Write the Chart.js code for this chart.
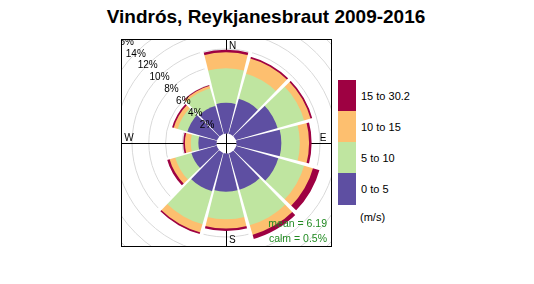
<!DOCTYPE html>
<html><head><meta charset="utf-8">
<script src="https://cdn.jsdelivr.net/npm/chart.js@4.4.1/dist/chart.umd.min.js"></script>
<style>
body{margin:0;width:534px;height:284px;background:#fff;position:relative;overflow:hidden;font-family:"Liberation Sans",Arial,sans-serif;color:#000}
#title{position:absolute;left:0;width:532px;top:6px;text-align:center;font-weight:bold;font-size:19px;line-height:22px;white-space:nowrap}
#wrap{position:absolute;left:121px;top:39px;width:211px;height:208px}
.box{position:absolute;left:338px;width:18px;height:31px}
.lab{position:absolute;left:361px;font-size:11px;line-height:14px;white-space:nowrap}
</style></head>
<body>
<div id="title">Vindrós, Reykjanesbraut 2009-2016</div>
<div id="wrap"><canvas id="c" width="211" height="208"></canvas></div>
<div id="legend"></div>
<script>
// ---- data (percent of time) ----
const directions = [0, 30, 60, 90, 120, 150, 180, 210, 240, 270, 300, 330];
const speedBins = ['0 to 5', '5 to 10', '10 to 15', '15 to 30.2'];
const freq0to5   = [3.6, 4.3, 5.2, 5.4, 5.3, 4.6, 4.6, 4.8, 3.1, 2.1, 3.6, 3.4];
const freq5to10  = [4.1, 3.1, 3.3, 2.2, 3.2, 4.4, 3.3, 4.1, 2.0, 0.9, 1.2, 2.2];
const freq10to15 = [1.9, 1.9, 0.8, 1.1, 1.1, 1.2, 1.1, 1.0, 0.7, 0.7, 0.5, 0.3];
const freq15to30 = [0.3, 0.2, 0.2, 0.3, 0.8, 0.5, 0.3, 0.2, 0.3, 0.2, 0.2, 0.1];
const pctTicks = [2, 4, 6, 8, 10, 12, 14, 16];
const compassLabels = ['N', 'E', 'S', 'W'];
const unitLabel = '(m/s)';
const meanSpeed = 6.19;
const calmPct = 0.5;

// ---- styles ----
const colors = ['#5E4FA2', '#BFE5A0', '#FDBF6F', '#9E0142'];
const scaleMin = -1.19, scaleMax = 11.19;

// cumulative stacks
const bins = [freq0to5, freq5to10, freq10to15, freq15to30];
const cum = [];
bins.forEach((b, k) => cum.push(b.map((v, i) => v + (k ? cum[k - 1][i] : 0))));

// legend (top = highest bin)
const leg = document.getElementById('legend');
const tops = [173, 142, 111, 80];
speedBins.forEach((s, k) => {
  const b = document.createElement('div'); b.className = 'box';
  b.style.top = tops[k] + 'px'; b.style.height = (k === 0 ? 32 : 31) + 'px'; b.style.background = colors[k];
  leg.appendChild(b);
  const t = document.createElement('div'); t.className = 'lab';
  t.style.top = (tops[k] + 9) + 'px'; t.textContent = s; leg.appendChild(t);
});
const u = document.createElement('div'); u.className = 'lab'; u.style.left = '360px';
u.style.top = '210px'; u.textContent = unitLabel; leg.appendChild(u);

const roseDecor = {
  id: 'roseDecor',
  beforeDatasetsDraw(chart) {
    const s = chart.scales.r, ctx = chart.ctx, W = chart.width, H = chart.height;
    const x = s.xCenter + 0.5, y = s.yCenter + 0.5;
    ctx.save();
    ctx.strokeStyle = '#000'; ctx.lineWidth = 1;
    ctx.beginPath(); ctx.moveTo(0, y); ctx.lineTo(W, y); ctx.moveTo(x, 0); ctx.lineTo(x, H); ctx.stroke();
    ctx.restore();
  },
  afterDatasetsDraw(chart) {
    const s = chart.scales.r, ctx = chart.ctx, W = chart.width, H = chart.height;
    const xc = s.xCenter, yc = s.yCenter;
    const top = chart.getDatasetMeta(cum.length - 1).data;
    ctx.save();
    // gaps between sectors
    ctx.fillStyle = '#fff';
    const half = 1.15 * Math.PI / 180;
    top.forEach((el, i) => {
      const prev = top[(i - 1 + top.length) % top.length];
      const len = Math.max(el.outerRadius, prev.outerRadius) + 2;
      const a = el.startAngle;
      ctx.beginPath();
      ctx.moveTo(xc, yc);
      ctx.lineTo(xc + len * Math.cos(a - half), yc + len * Math.sin(a - half));
      ctx.lineTo(xc + len * Math.cos(a + half), yc + len * Math.sin(a + half));
      ctx.closePath(); ctx.fill();
    });
    // central hole with axis cross
    const r0 = s.getDistanceFromCenterForValue(0);
    ctx.beginPath(); ctx.arc(xc + 0.5, yc + 0.5, r0, 0, Math.PI * 2); ctx.fill();
    ctx.strokeStyle = '#000'; ctx.lineWidth = 1;
    ctx.beginPath();
    ctx.moveTo(xc + 0.5 - r0, yc + 0.5); ctx.lineTo(xc + 0.5 + r0, yc + 0.5);
    ctx.moveTo(xc + 0.5, yc + 0.5 - r0); ctx.lineTo(xc + 0.5, yc + 0.5 + r0);
    ctx.stroke();
    // percentage labels along NW diagonal
    ctx.fillStyle = '#000';
    ctx.font = '10px "Liberation Sans", Arial, sans-serif';
    ctx.textAlign = 'center'; ctx.textBaseline = 'middle';
    pctTicks.forEach(v => {
      const r = s.getDistanceFromCenterForValue(v) * Math.SQRT1_2;
      ctx.fillText(v + '%', xc - r, yc - r + 1);
    });
    // compass labels
    const lr = 97;
    ctx.font = '10px "Liberation Sans", Arial, sans-serif';
    ctx.textAlign = 'left'; ctx.textBaseline = 'middle';
    ctx.fillText(compassLabels[0], xc + 3, yc - lr);
    ctx.fillText(compassLabels[2], xc + 3, yc + lr);
    ctx.textAlign = 'center'; ctx.textBaseline = 'bottom';
    ctx.fillText(compassLabels[1], xc + lr, yc);
    ctx.fillText(compassLabels[3], xc - lr, yc);
    // stats
    ctx.fillStyle = '#228B22';
    ctx.font = '10.5px "Liberation Sans", Arial, sans-serif';
    ctx.textAlign = 'right'; ctx.textBaseline = 'middle';
    ctx.fillText('mean = ' + meanSpeed.toFixed(2), W - 5, H - 23);
    ctx.fillText('calm = ' + calmPct + '%', W - 5, H - 8);
    // frame
    ctx.strokeStyle = '#000'; ctx.lineWidth = 1;
    ctx.strokeRect(0.5, 0.5, W - 1, H - 1);
    ctx.restore();
  }
};

new Chart(document.getElementById('c'), {
  type: 'polarArea',
  data: {
    labels: directions.map(d => d + '°'),
    datasets: cum.map((d, k) => ({
      label: speedBins[k], data: d, backgroundColor: colors[k], borderWidth: 0
    }))
  },
  options: {
    responsive: false, animation: false, startAngle: -15,
    layout: { padding: 0 },
    plugins: { legend: { display: false }, tooltip: { enabled: false } },
    scales: {
      r: {
        min: scaleMin, max: scaleMax, startAngle: -15,
        afterBuildTicks: sc => { sc.ticks = [0].concat(pctTicks).map(v => ({ value: v })); },
        ticks: { display: false },
        grid: { color: '#d9d9d9', lineWidth: 1, circular: true },
        angleLines: { display: false },
        pointLabels: { display: false }
      }
    }
  },
  plugins: [roseDecor]
});
</script>
</body></html>
